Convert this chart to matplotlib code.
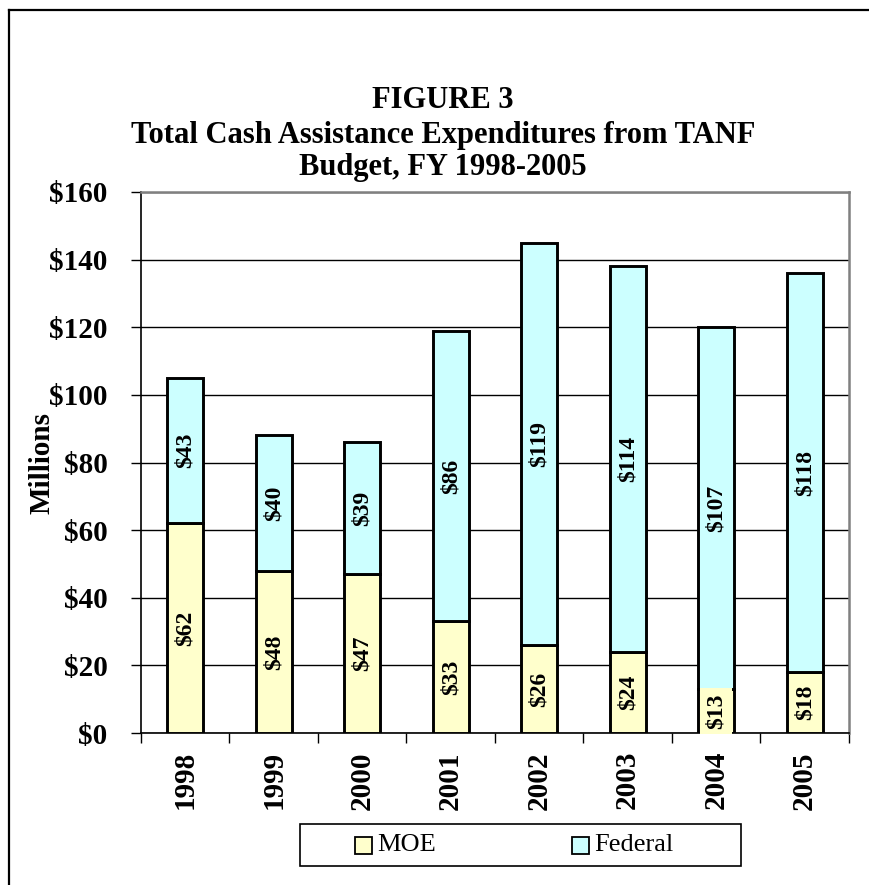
import matplotlib
matplotlib.use("Agg")
import matplotlib.pyplot as plt
from matplotlib.lines import Line2D
from matplotlib.patches import Rectangle
import numpy as np

years = ["1998", "1999", "2000", "2001", "2002", "2003", "2004", "2005"]
moe = [62, 48, 47, 33, 26, 24, 13, 18]
federal = [43, 40, 39, 86, 119, 114, 107, 118]
y_ticks = [0, 20, 40, 60, 80, 100, 120, 140, 160]
series_names = ["MOE", "Federal"]

MOE_COLOR = "#FFFFCC"
FED_COLOR = "#CCFFFF"

plt.rcParams["font.family"] = ["Liberation Serif", "DejaVu Serif"]

W, H = 870, 885
fig = plt.figure(figsize=(W / 100, H / 100), dpi=100)


def fx(px):
    return px / W


def fy(py):
    return 1 - py / H


# axes placement in pixel terms
left, right, bottom, top = 141, 849, 733, 192
ax = fig.add_axes([fx(left), fy(bottom), (right - left) / W, (bottom - top) / H])

x = np.arange(len(years))
bw = 0.41
ax.bar(x, moe, bw, color=MOE_COLOR, edgecolor="black", linewidth=2.1, zorder=3)
ax.bar(x, federal, bw, bottom=moe, color=FED_COLOR, edgecolor="black", linewidth=2.1,
       zorder=3)

# value labels in the middle of each segment
for xi, m, f in zip(x, moe, federal):
    ax.text(xi, m / 2, f"${m}", rotation=90, ha="center", va="center", fontsize=17,
            fontweight="bold", zorder=4,
            bbox=dict(boxstyle="square,pad=0.24", facecolor=MOE_COLOR, edgecolor="none"))
    ax.text(xi, m + f / 2, f"${f}", rotation=90, ha="center", va="center", fontsize=17,
            fontweight="bold", zorder=4,
            bbox=dict(boxstyle="square,pad=0.24", facecolor=FED_COLOR, edgecolor="none"))

ax.set_xlim(-0.5, len(years) - 0.5)
ax.set_ylim(0, 160)
ax.set_yticks(y_ticks)
ax.set_yticklabels([f"${v}" for v in y_ticks], fontsize=21, fontweight="bold")
ax.yaxis.grid(True, color="black", linewidth=1.0, zorder=0)
ax.set_axisbelow(True)

# category labels, with ticks at the boundaries between categories
ax.set_xticks(x)
ax.set_xticklabels(years, rotation=90, fontsize=21, fontweight="bold")
ax.tick_params(axis="x", which="major", length=0, pad=13)
ax.set_xticks(np.arange(-0.5, len(years)), minor=True)
ax.tick_params(axis="x", which="minor", length=7, width=1.0, direction="out")
ax.tick_params(axis="y", length=7, width=1.0, direction="out", pad=17)

for s in ("left", "bottom"):
    ax.spines[s].set_color("black")
    ax.spines[s].set_linewidth(1.2)
for s in ("top", "right"):
    ax.spines[s].set_color("#808080")
    ax.spines[s].set_linewidth(1.8)

ax.set_ylabel("Millions", fontsize=21, fontweight="bold")
ax.yaxis.set_label_coords((56 - left) / (right - left), 0.5)

# title block
title_lines = ["FIGURE 3", "Total Cash Assistance Expenditures from TANF",
               "Budget, FY 1998-2005"]
for line, ypx in zip(title_lines, [100, 135, 167]):
    fig.text(fx(443), fy(ypx), line, ha="center", va="center", fontsize=22,
             fontweight="bold")

# legend box drawn in figure pixels
fig.add_artist(Rectangle((fx(300), fy(866)), (741 - 300) / W, 42 / H,
                         transform=fig.transFigure, facecolor="white", edgecolor="black",
                         linewidth=1.2))
for name, color, sx in zip(series_names, [MOE_COLOR, FED_COLOR], [355, 572]):
    fig.add_artist(Rectangle((fx(sx), fy(854)), 17 / W, 17 / H, transform=fig.transFigure,
                             facecolor=color, edgecolor="black", linewidth=1.3))
    fig.text(fx(sx + 22), fy(845), name, ha="left", va="center", fontsize=19)

# outer frame (left and top edges)
fig.add_artist(Line2D([fx(9), fx(9)], [0, fy(10)], color="black", linewidth=1.6,
                      transform=fig.transFigure))
fig.add_artist(Line2D([fx(9), 1], [fy(10), fy(10)], color="black", linewidth=1.6,
                      transform=fig.transFigure))

fig.savefig("out.png", dpi=100)
